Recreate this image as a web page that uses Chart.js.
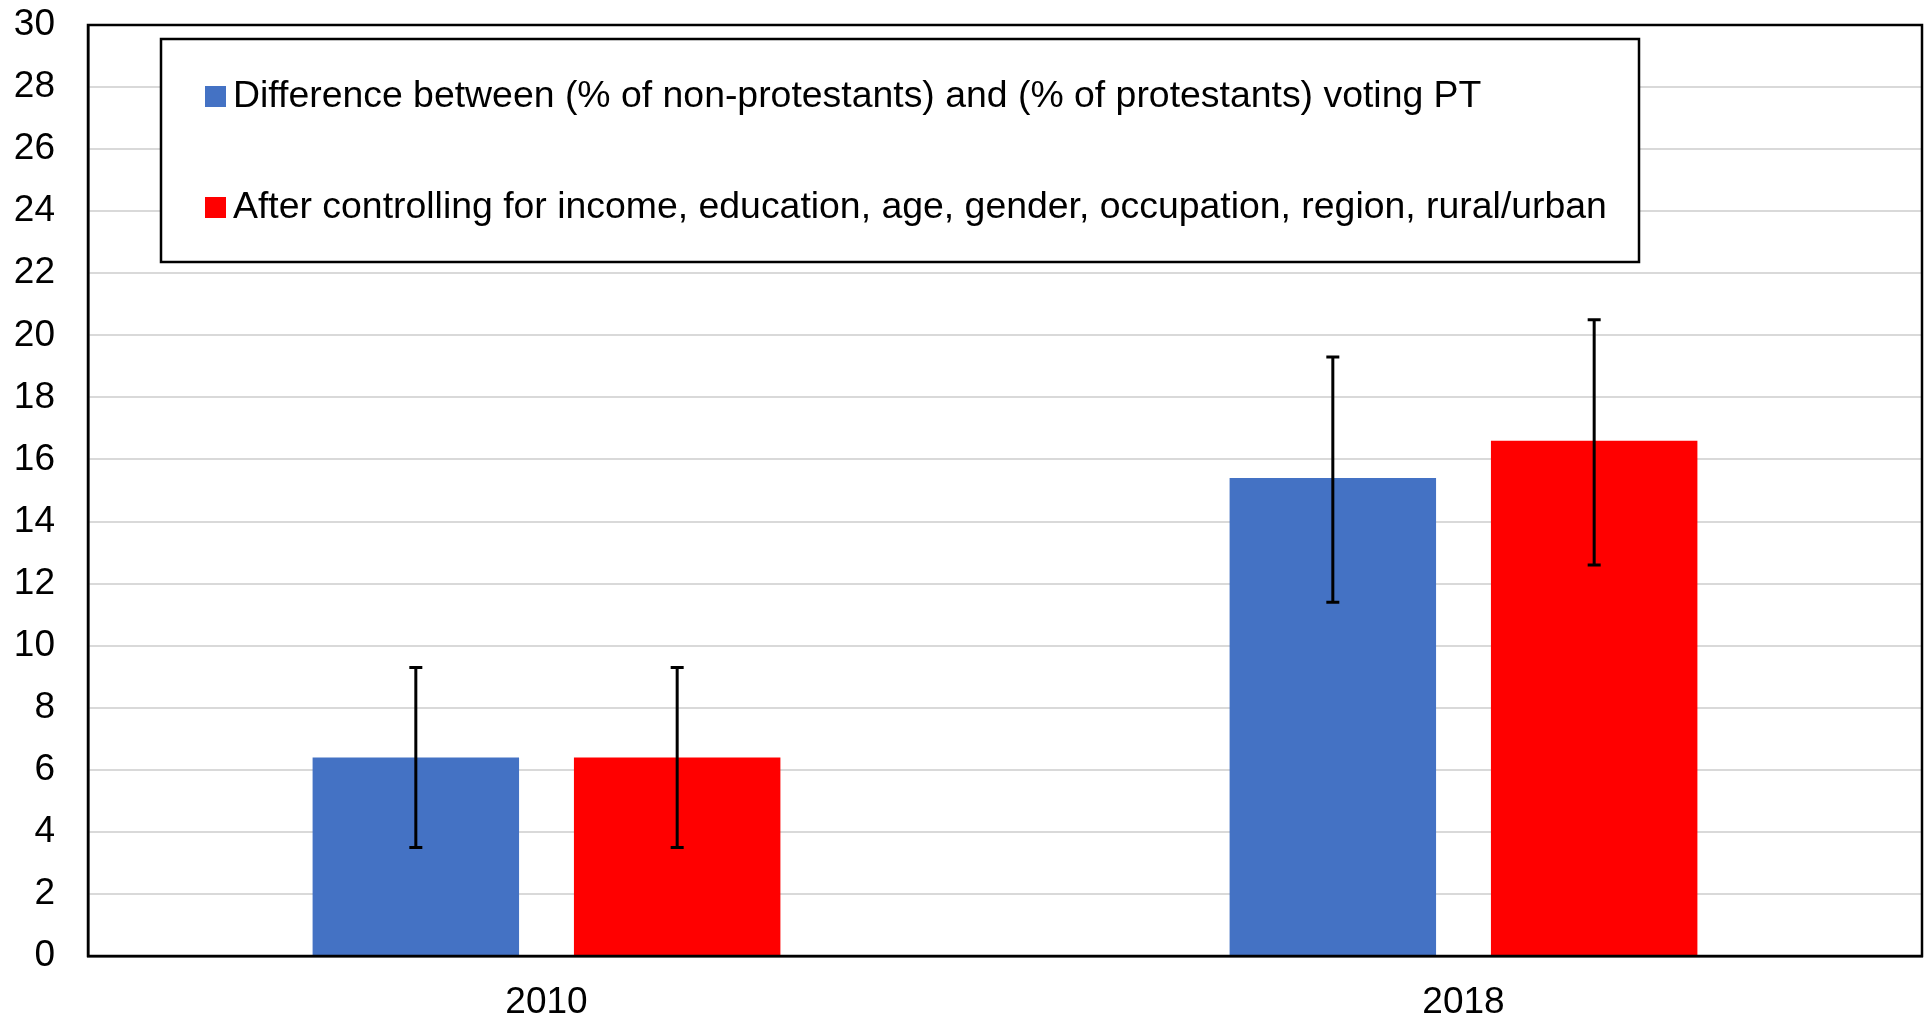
<!DOCTYPE html>
<html lang="en">
<head>
    <meta charset="UTF-8">
    <title>Protestant vote gap</title>
    <script src="https://cdn.jsdelivr.net/npm/chart.js"></script>
    <style>
        body {
            margin: 0;
            background: #fff;
        }
        #chart-container {
            width: 1927px;
            height: 1018px;
        }
    </style>
</head>
<body>
<div id="chart-container">
    <canvas id="barChart" width="1927" height="1018"></canvas>
</div>

<script>
    // data
    const categories = ['2010', '2018'];
    const seriesNames = [
        'Difference between (% of non-protestants) and (% of protestants) voting PT',
        'After controlling for income, education, age, gender, occupation, region, rural/urban'
    ];
    const rawGap = [6.4, 15.4];
    const rawGapLow = [3.5, 11.4];
    const rawGapHigh = [9.3, 19.3];
    const controlledGap = [6.4, 16.6];
    const controlledGapLow = [3.5, 12.6];
    const controlledGapHigh = [9.3, 20.5];
    const yMin = 0;
    const yMax = 30;
    const yStep = 2;

    const FONT = '"Liberation Sans", Arial, sans-serif';

    // error bars (confidence intervals) on top of each bar
    const errorBars = {
        id: 'errorBars',
        afterDatasetsDraw(chart) {
            const ctx = chart.ctx;
            const y = chart.scales.y;
            ctx.save();
            ctx.strokeStyle = '#000';
            ctx.lineWidth = 3;
            chart.data.datasets.forEach((ds, i) => {
                const meta = chart.getDatasetMeta(i);
                meta.data.forEach((bar, j) => {
                    const top = y.getPixelForValue(ds.errHigh[j]);
                    const bottom = y.getPixelForValue(ds.errLow[j]);
                    ctx.beginPath();
                    ctx.moveTo(bar.x, top);
                    ctx.lineTo(bar.x, bottom);
                    ctx.moveTo(bar.x - 6.5, top);
                    ctx.lineTo(bar.x + 6.5, top);
                    ctx.moveTo(bar.x - 6.5, bottom);
                    ctx.lineTo(bar.x + 6.5, bottom);
                    ctx.stroke();
                });
            });
            ctx.restore();
        }
    };

    // black frame round the plot area + boxed legend inside it
    const frameAndLegend = {
        id: 'frameAndLegend',
        afterDraw(chart) {
            const ctx = chart.ctx;
            const a = chart.chartArea;
            ctx.save();
            ctx.strokeStyle = '#000';
            ctx.lineWidth = 2.5;
            ctx.strokeRect(a.left, a.top, a.right - a.left, a.bottom - a.top);

            // legend box
            const bx = a.left + 73, by = a.top + 14, bw = 1478, bh = 223;
            ctx.fillStyle = '#fff';
            ctx.fillRect(bx, by, bw, bh);
            ctx.lineWidth = 2.5;
            ctx.strokeRect(bx, by, bw, bh);

            ctx.font = '37.4px ' + FONT;
            ctx.textBaseline = 'middle';
            const rowY = [by + 57, by + 168];
            chart.data.datasets.forEach((ds, i) => {
                ctx.fillStyle = ds.backgroundColor;
                ctx.fillRect(bx + 44, rowY[i] - 10, 21, 21);
                ctx.fillStyle = '#000';
                ctx.fillText(ds.label, bx + 72, rowY[i] + 1);
            });
            ctx.restore();
        }
    };

    const ctx = document.getElementById('barChart').getContext('2d');
    const barChart = new Chart(ctx, {
        type: 'bar',
        data: {
            labels: categories,
            datasets: [{
                label: seriesNames[0],
                data: rawGap,
                errLow: rawGapLow,
                errHigh: rawGapHigh,
                backgroundColor: '#4472C4',
                categoryPercentage: 0.57,
                barPercentage: 0.79
            }, {
                label: seriesNames[1],
                data: controlledGap,
                errLow: controlledGapLow,
                errHigh: controlledGapHigh,
                backgroundColor: '#FF0000',
                categoryPercentage: 0.57,
                barPercentage: 0.79
            }]
        },
        options: {
            responsive: false,
            animation: false,
            layout: {
                padding: { top: 0, right: 5, left: 0, bottom: 0 }
            },
            scales: {
                x: {
                    grid: { display: false },
                    border: { color: '#000', width: 2.5 },
                    ticks: {
                        color: '#000',
                        padding: 17,
                        font: { family: FONT, size: 37 }
                    },
                    afterFit(s) {
                        s.height = 62;
                        s.paddingLeft = 0;
                        s.paddingRight = 0;
                    }
                },
                y: {
                    min: yMin,
                    max: yMax,
                    grid: {
                        color: '#d9d9d9',
                        lineWidth: 2,
                        drawTicks: false
                    },
                    border: { color: '#000', width: 2.5 },
                    ticks: {
                        stepSize: yStep,
                        color: '#000',
                        padding: 33,
                        font: { family: FONT, size: 37 }
                    },
                    afterFit(s) {
                        s.width = 88;
                        s.paddingTop = 25;
                        s.paddingBottom = 0;
                    }
                }
            },
            plugins: {
                legend: { display: false },
                tooltip: { enabled: false }
            }
        },
        plugins: [errorBars, frameAndLegend]
    });
</script>

</body>
</html>
